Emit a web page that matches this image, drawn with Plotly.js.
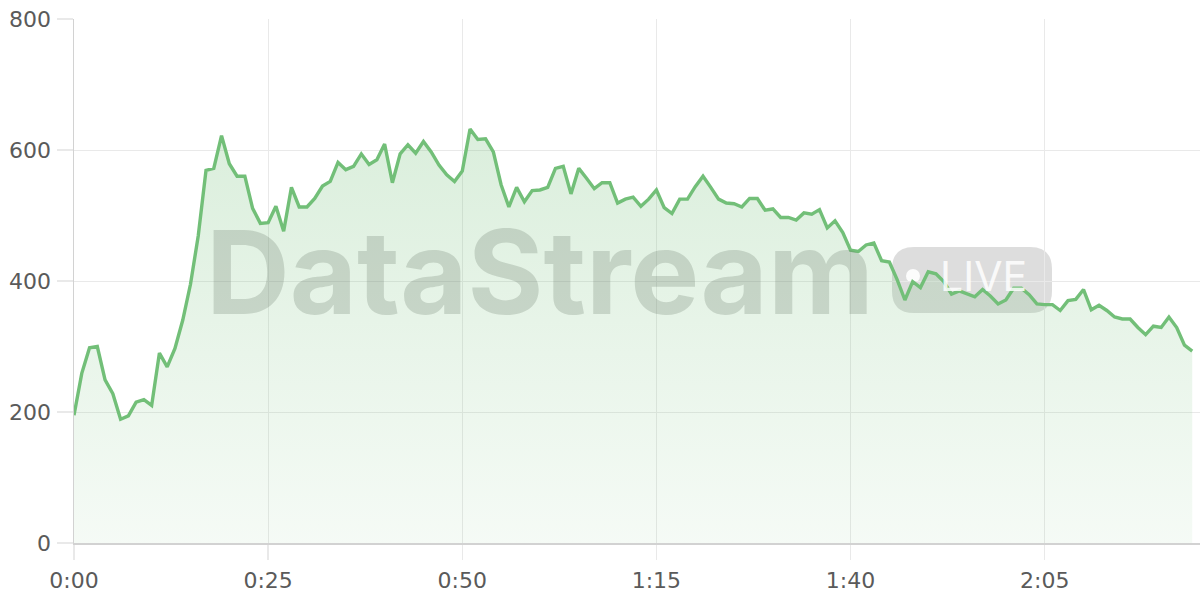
<!DOCTYPE html>
<html>
<head>
<meta charset="utf-8">
<script src="https://cdn.plot.ly/plotly-3.0.1.min.js"></script>
<style>
html,body{margin:0;padding:0;background:#fff;}
#chart{width:1200px;height:600px;}
</style>
</head>
<body>
<div id="chart"></div>
<script>
// elapsed seconds
const seconds = Array.from({length: 145}, (_, i) => i);
// viewer count per second
const viewers = [
195,259,298,300,249,228,189,194,215,219,
210,290,269,297,340,395,469,569,572,622,
579,560,560,511,488,489,514,476,543,513,
513,526,545,552,581,570,575,594,578,585,
609,550,594,608,595,613,597,577,562,552,
568,632,616,617,597,547,513,543,521,538,
539,543,572,575,533,572,557,541,550,550,
519,525,528,514,525,539,512,503,525,525,
544,560,543,525,519,518,513,526,526,508,
510,497,497,493,504,502,509,481,492,474,
447,445,455,458,431,429,402,371,399,390,
414,411,399,380,385,380,376,387,377,365,
371,389,389,379,365,364,364,355,370,372,
387,356,363,355,345,342,342,329,318,331,
329,345,329,302,293
];
const xTickVals = [0, 25, 50, 75, 100, 125];
const xTickText = ["0:00", "0:25", "0:50", "1:15", "1:40", "2:05"];
const yTickVals = [0, 200, 400, 600, 800];

const trace = {
  x: seconds,
  y: viewers,
  type: 'scatter',
  mode: 'lines',
  line: {color: '#72bf78', width: 3.4, shape: 'linear'},
  fill: 'tozeroy',
  fillgradient: {
    type: 'vertical',
    start: 0,
    stop: 640,
    colorscale: [[0, 'rgba(114,191,120,0.07)'], [1, 'rgba(114,191,120,0.26)']]
  },
  hoverinfo: 'skip'
};

const W = 1126, H = 524;
function px(x){ return (x - 74) / W; }
function py(y){ return (543 - y) / H; }
// rounded badge path in paper coords
const bx0 = 892, bx1 = 1052, by0 = 247, by1 = 313, r = 22;
const rx = r / W, ry = r / H;
const X0 = px(bx0), X1 = px(bx1), Yt = py(by0), Yb = py(by1);
const badgePath = `M ${X0+rx},${Yt} L ${X1-rx},${Yt} Q ${X1},${Yt} ${X1},${Yt-ry} L ${X1},${Yb+ry} Q ${X1},${Yb} ${X1-rx},${Yb} L ${X0+rx},${Yb} Q ${X0},${Yb} ${X0},${Yb+ry} L ${X0},${Yt-ry} Q ${X0},${Yt} ${X0+rx},${Yt} Z`;

const tickFont = {family: 'DejaVu Sans, sans-serif', size: 22, color: '#5a5a5a'};

const layout = {
  width: 1200,
  height: 600,
  margin: {l: 74, r: 0, t: 19, b: 57, pad: 0},
  paper_bgcolor: '#ffffff',
  plot_bgcolor: '#ffffff',
  showlegend: false,
  font: tickFont,
  xaxis: {
    range: [0, 145],
    tickvals: xTickVals,
    ticktext: xTickText,
    showgrid: true,
    gridcolor: '#e9e9e9',
    gridwidth: 1,
    zeroline: false,
    showline: true,
    linecolor: '#d2d2d2',
    linewidth: 1.5,
    ticks: 'outside',
    ticklen: 15,
    tickcolor: '#e9e9e9',
    tickwidth: 1.5,
    ticklabelstandoff: 2,
    tickfont: tickFont,
    fixedrange: true
  },
  yaxis: {
    range: [0, 800],
    tickvals: yTickVals,
    showgrid: true,
    gridcolor: '#e9e9e9',
    gridwidth: 1,
    zeroline: false,
    showline: true,
    linecolor: '#d2d2d2',
    linewidth: 1.5,
    ticks: 'outside',
    ticklen: 16,
    tickcolor: '#e9e9e9',
    tickwidth: 1.5,
    ticklabelstandoff: 1,
    tickfont: tickFont,
    fixedrange: true
  },
  shapes: [
    {type: 'path', xref: 'paper', yref: 'paper', path: badgePath,
     fillcolor: 'rgba(120,120,120,0.25)', line: {width: 0}, layer: 'below'},
    {type: 'circle', xref: 'paper', yref: 'paper',
     x0: px(906), x1: px(920), y0: py(283), y1: py(269),
     fillcolor: 'rgba(255,255,255,0.9)', line: {width: 0}, layer: 'below'}
  ],
  annotations: [
    {text: '<b>DataStream</b>', xref: 'paper', yref: 'paper', x: px(540), y: py(272),
     xanchor: 'center', yanchor: 'middle', showarrow: false,
     font: {family: 'Inter, Liberation Sans, sans-serif', size: 116, weight: 800, color: 'rgba(105,118,105,0.25)'}},
    {text: 'LIVE', xref: 'paper', yref: 'paper', x: px(983), y: py(276),
     xanchor: 'center', yanchor: 'middle', showarrow: false,
     font: {family: 'Inter, Liberation Sans, sans-serif', size: 41, weight: 400, color: 'rgba(255,255,255,0.85)'}}
  ]
};

Plotly.newPlot('chart', [trace], layout, {staticPlot: true, displayModeBar: false});
</script>
</body>
</html>
